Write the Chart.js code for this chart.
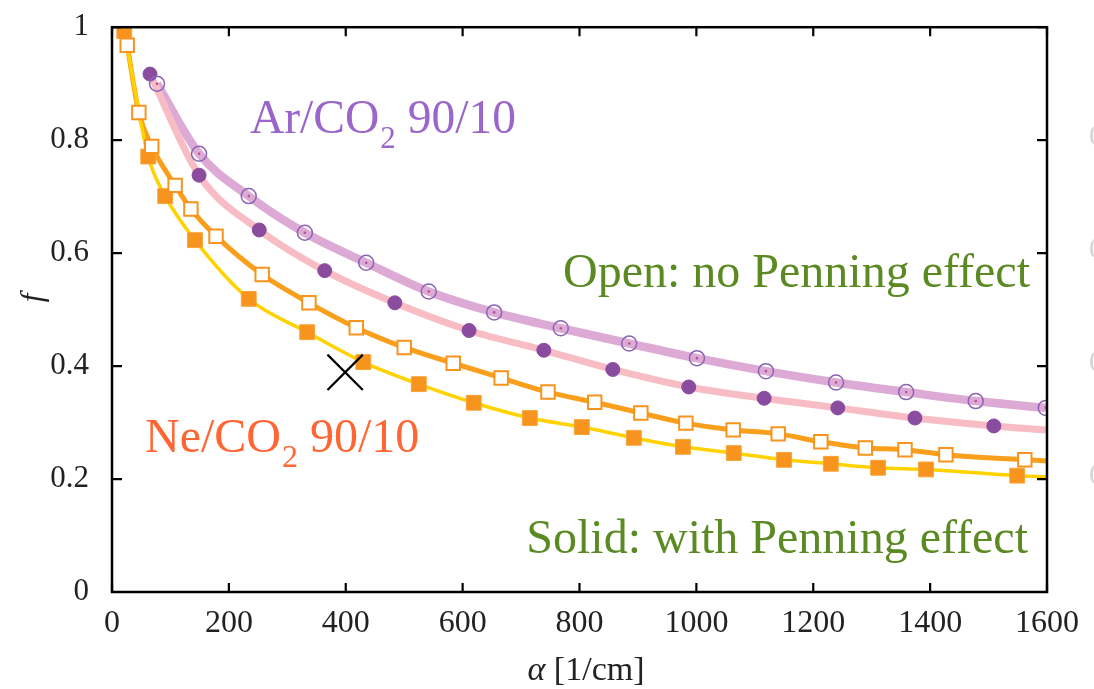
<!DOCTYPE html>
<html>
<head>
	<title>f versus alpha</title>
	<script src="https://cdn.jsdelivr.net/npm/chart.js@4.4.0/dist/chart.umd.min.js"></script>
	<style>
		body { margin: 0; background: #fff; }
		#wrap { width: 1094px; height: 689px; }
	</style>
</head>
<body>
	<div id="wrap"><canvas id="chart1" width="1094" height="689"></canvas></div>
<script>
	// values: alpha [1/cm] and f
	var arOpenX = [77, 149, 234, 330, 435, 542, 654, 768, 885, 1001, 1119, 1239, 1359, 1478, 1598];
	var arOpenY = [0.900, 0.776, 0.701, 0.636, 0.583, 0.532, 0.495, 0.467, 0.440, 0.414, 0.391, 0.371, 0.354, 0.338, 0.326];
	var arSolidX = [65, 149, 252, 364, 484, 611, 739, 857, 987, 1116, 1242, 1374, 1509];
	var arSolidY = [0.917, 0.738, 0.641, 0.569, 0.512, 0.463, 0.428, 0.394, 0.363, 0.343, 0.326, 0.308, 0.294];
	var neOpenX = [26, 46, 68, 108, 135, 178, 257, 337, 418, 500, 584, 666, 746, 826, 905, 982, 1063, 1140, 1213, 1289, 1357, 1427, 1562];
	var neOpenY = [0.968, 0.849, 0.789, 0.720, 0.678, 0.630, 0.562, 0.512, 0.468, 0.433, 0.405, 0.379, 0.354, 0.336, 0.317, 0.299, 0.287, 0.280, 0.266, 0.255, 0.252, 0.243, 0.234];
	var neSolidX = [21, 62, 91, 142, 234, 334, 430, 525, 619, 715, 804, 893, 977, 1064, 1150, 1230, 1311, 1393, 1549];
	var neSolidY = [0.993, 0.771, 0.701, 0.623, 0.519, 0.460, 0.407, 0.368, 0.335, 0.308, 0.292, 0.273, 0.257, 0.246, 0.234, 0.227, 0.220, 0.217, 0.206];
	// where the curves leave the frame at alpha = 1600
	var curveEndX = 1600;
	var arSolidEnd = 0.287;
	var neOpenEnd = 0.232;
	var neSolidEnd = 0.204;
	// the black cross
	var crossX = [399];
	var crossY = [0.389];
	// axis ticks
	var xTicks = [0, 200, 400, 600, 800, 1000, 1200, 1400, 1600];
	var yTicks = [0, 0.2, 0.4, 0.6, 0.8, 1];

	var serif = "'Liberation Serif', 'Times New Roman', serif";

	function pts(xs, ys) {
		var out = [];
		for (var i = 0; i < xs.length; i++) {
			out.push({x: xs[i], y: ys[i]});
		}
		return out;
	}
	function withEnd(xs, ys, yEnd) {
		var out = pts(xs, ys);
		out.push({x: curveEndX, y: yEnd});
		return out;
	}

	// text with a subscript, e.g. Ar/CO_2 90/10
	function subText(ctx, a, sub, b, x, y, size, color) {
		ctx.fillStyle = color;
		ctx.textAlign = 'left';
		ctx.textBaseline = 'alphabetic';
		ctx.font = size + 'px ' + serif;
		ctx.fillText(a, x, y);
		x += ctx.measureText(a).width;
		ctx.font = Math.round(size * 0.66) + 'px ' + serif;
		ctx.fillText(sub, x + 1, y + size * 0.32);
		x += ctx.measureText(sub).width + 1;
		ctx.font = size + 'px ' + serif;
		ctx.fillText(b, x, y);
	}

	var framePlugin = {
		id: 'frame',
		afterDraw: function(chart) {
			var ctx = chart.ctx;
			var a = chart.chartArea;
			var xs = chart.scales.x, ys = chart.scales.y;
			ctx.save();
			// box and inward ticks
			ctx.strokeStyle = '#000';
			ctx.lineWidth = 2.5;
			ctx.strokeRect(a.left, a.top, a.right - a.left, a.bottom - a.top);
			ctx.lineWidth = 2.2;
			ctx.beginPath();
			xTicks.forEach(function(v) {
				var px = xs.getPixelForValue(v);
				ctx.moveTo(px, a.bottom); ctx.lineTo(px, a.bottom - 9);
				ctx.moveTo(px, a.top); ctx.lineTo(px, a.top + 9);
			});
			yTicks.forEach(function(v) {
				var py = ys.getPixelForValue(v);
				ctx.moveTo(a.left, py); ctx.lineTo(a.left + 10, py);
				ctx.moveTo(a.right, py); ctx.lineTo(a.right - 10, py);
			});
			ctx.stroke();

			// cut-off labels of a neighbouring panel at the right edge
			ctx.fillStyle = '#d4d4d4';
			ctx.font = '30px ' + serif;
			ctx.textAlign = 'left';
			ctx.textBaseline = 'middle';
			[0.2, 0.4, 0.6, 0.8].forEach(function(v) {
				ctx.fillText(String(v), 1089, ys.getPixelForValue(v) - 3);
			});

			// axis titles
			ctx.fillStyle = '#222';
			ctx.save();
			ctx.translate(34, 298);
			ctx.rotate(-Math.PI / 2);
			ctx.font = 'italic 31px ' + serif;
			ctx.textAlign = 'center';
			ctx.fillText('f', 0, 0);
			ctx.restore();

			ctx.textBaseline = 'alphabetic';
			ctx.textAlign = 'left';
			ctx.font = 'italic 34px ' + serif;
			var w1 = ctx.measureText('\u03b1').width;
			ctx.font = '34px ' + serif;
			var w2 = ctx.measureText(' [1/cm]').width;
			var x0 = 586 - (w1 + w2) / 2;
			ctx.font = 'italic 34px ' + serif;
			ctx.fillText('\u03b1', x0, 680);
			ctx.font = '34px ' + serif;
			ctx.fillText(' [1/cm]', x0 + w1, 680);

			// labels inside the plot
			subText(ctx, 'Ar/CO', '2', ' 90/10', 250, 133, 47.5, '#9a66cc');
			subText(ctx, 'Ne/CO', '2', ' 90/10', 145, 452, 48, '#ff6633');
			ctx.fillStyle = '#5b8a23';
			ctx.font = '48px ' + serif;
			ctx.textAlign = 'right';
			ctx.fillText('Open: no Penning effect', 1030, 287);
			ctx.fillText('Solid: with Penning effect', 1028, 553);
			ctx.restore();
		}
	};

	var ctx = document.getElementById('chart1');
	var chart = new Chart(ctx, {
		type: 'scatter',
		data: {
			datasets: [
				{
					label: 'cross',
					data: pts(crossX, crossY),
					pointStyle: 'crossRot',
					pointRadius: 25,
					borderColor: '#000',
					borderWidth: 2.2,
					order: 0
				},
				{
					label: 'Ar open centre',
					data: pts(arOpenX, arOpenY),
					pointRadius: 1.3,
					backgroundColor: '#b8509a',
					borderWidth: 0,
					order: 1
				},
				{
					label: 'Ar/CO2 open',
					data: pts(arOpenX, arOpenY),
					pointStyle: 'circle',
					pointRadius: 7.5,
					backgroundColor: 'rgba(0,0,0,0)',
					borderColor: '#8a63b4',
					borderWidth: 1.5,
					order: 2
				},
				{
					label: 'Ar/CO2 solid',
					data: pts(arSolidX, arSolidY),
					pointStyle: 'circle',
					pointRadius: 7,
					backgroundColor: '#8a4c9f',
					borderColor: '#8a4c9f',
					borderWidth: 1,
					order: 2
				},
				{
					label: 'Ne/CO2 open',
					data: pts(neOpenX, neOpenY),
					pointStyle: 'rect',
					pointRadius: 9.5,
					backgroundColor: '#fff',
					borderColor: '#f7941d',
					borderWidth: 2,
					order: 2
				},
				{
					label: 'Ne/CO2 solid',
					data: pts(neSolidX, neSolidY),
					pointStyle: 'rect',
					pointRadius: 10.5,
					backgroundColor: '#f7941d',
					borderColor: '#f9a43c',
					borderWidth: 1,
					order: 2
				},
				{
					label: 'Ne solid curve',
					data: withEnd(neSolidX, neSolidY, neSolidEnd),
					showLine: true,
					pointRadius: 0,
					borderColor: '#ffd200',
					borderWidth: 3.5,
					cubicInterpolationMode: 'monotone',
					order: 10
				},
				{
					label: 'Ne open curve',
					data: withEnd(neOpenX, neOpenY, neOpenEnd),
					showLine: true,
					pointRadius: 0,
					borderColor: '#f99f1c',
					borderWidth: 5,
					cubicInterpolationMode: 'monotone',
					order: 11
				},
				{
					label: 'Ar solid curve',
					data: withEnd(arSolidX, arSolidY, arSolidEnd),
					showLine: true,
					pointRadius: 0,
					borderColor: '#f8bcc4',
					borderWidth: 7,
					cubicInterpolationMode: 'monotone',
					order: 12
				},
				{
					label: 'Ar open curve',
					data: pts(arOpenX, arOpenY),
					showLine: true,
					pointRadius: 0,
					borderColor: '#dcaad5',
					borderWidth: 8.5,
					cubicInterpolationMode: 'monotone',
					order: 13
				}
			]
		},
		options: {
			responsive: false,
			animation: false,
			layout: { padding: { top: 22, right: 47, left: 0, bottom: 0 } },
			plugins: {
				legend: { display: false },
				tooltip: { enabled: false }
			},
			scales: {
				x: {
					type: 'linear',
					position: 'bottom',
					min: 0,
					max: 1600,
					afterFit: function(s) {
						s.height = 97;
						s.paddingLeft = 0;
						s.paddingRight = 0;
					},
					afterBuildTicks: function(s) { s.ticks = xTicks.map(function(v) { return {value: v}; }); },
					ticks: {
						color: '#222',
						font: { family: serif, size: 32 },
						padding: 4,
						maxRotation: 0,
						autoSkip: false,
						callback: function(v) { return String(v); }
					},
					grid: { display: false },
					border: { display: false }
				},
				y: {
					type: 'linear',
					min: 0,
					max: 1,
					afterFit: function(s) {
						s.width = 112;
						s.paddingTop = 0;
						s.paddingBottom = 0;
					},
					afterBuildTicks: function(s) { s.ticks = yTicks.map(function(v) { return {value: v}; }); },
					ticks: {
						color: '#222',
						font: { family: serif, size: 31 },
						padding: 15,
						autoSkip: false,
						callback: function(v) { return String(v); }
					},
					grid: { display: false },
					border: { display: false }
				}
			}
		},
		plugins: [framePlugin]
	});
</script>
</body>
</html>
